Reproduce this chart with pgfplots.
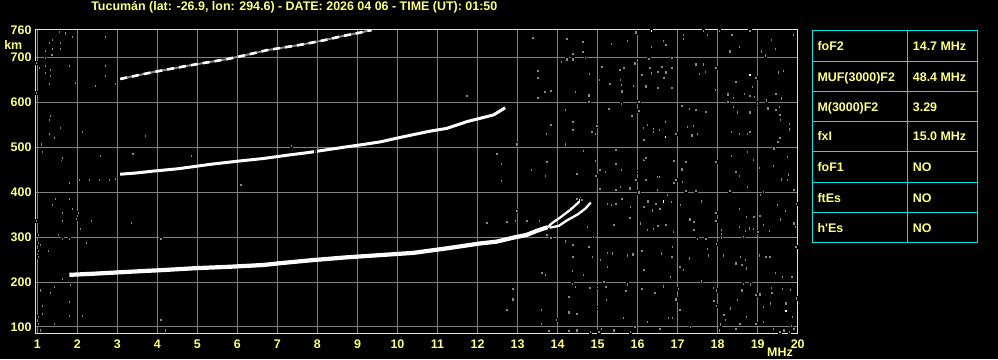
\documentclass[border=0pt]{standalone}
\usepackage{fontspec}
\setmainfont{Liberation Sans}
\usepackage{pgfplots}
\pgfplotsset{compat=1.18}
\definecolor{lbl}{RGB}{255,255,128}
\definecolor{frm}{RGB}{255,255,0}
\definecolor{grd}{RGB}{128,128,128}
\definecolor{tbl}{RGB}{0,230,230}
\definecolor{nz}{RGB}{136,136,136}
\newcommand{\lf}{\bfseries\fontsize{12.5}{15}\selectfont}

\pgfplotstableread{
f h
14.64 735
14.64 713
15.34 731
15.74 737
15.95 756
16.34 724
16.64 737
16.70 728
17.13 750
17.13 741
17.74 751
17.64 759
18.03 759
18.35 750
18.80 759
19.34 739
19.44 719
19.89 750
19.18 705
19.09 714
18.54 724
18.30 714
14.69 701
15.10 680
14.79 663
15.55 673
15.65 677
15.93 687
15.99 694
16.28 697
16.30 677
16.34 665
16.60 680
16.70 667
16.85 700
16.85 677
16.50 668
16.65 655
16.10 662
15.57 650
15.59 639
15.60 625
15.89 637
16.20 636
16.50 633
16.85 633
17.45 685
17.64 685
17.54 663
17.68 668
17.95 677
17.94 628
18.25 618
18.39 611
18.67 619
18.95 654
18.86 635
18.80 615
18.92 613
18.99 598
19.22 605
19.45 619
19.58 609
19.51 667
19.64 670
18.45 646
18.25 602
18.39 590
18.49 578
18.80 578
19.25 587
19.45 583
19.54 590
19.55 573
19.57 561
19.79 553
19.79 540
18.34 534
18.54 530
18.74 530
18.80 534
19.50 513
19.55 522
19.40 498
14.80 616
15.04 650
15.30 641
15.59 597
15.85 570
16.03 581
16.03 602
15.28 585
14.85 535
14.94 530
14.98 548
16.14 543
16.24 550
16.39 542
16.39 535
16.54 539
16.69 557
16.95 530
17.10 593
17.28 585
17.45 583
17.70 579
17.24 546
17.39 548
17.49 531
17.35 527
16.15 516
14.64 492
14.94 470
15.19 446
15.05 450
15.45 494
15.45 464
15.59 450
16.15 473
16.20 477
15.99 446
16.18 429
16.53 435
16.90 470
17.10 451
17.20 468
17.95 468
18.34 481
18.45 446
18.74 490
18.89 472
18.54 435
19.04 455
19.39 459
19.74 479
19.60 431
19.76 440
14.95 436
15.95 427
16.20 427
16.49 435
16.95 427
16.90 422
17.11 423
18.53 436
19.59 429
19.74 427
15.05 407
15.45 405
15.57 412
15.80 409
16.03 400
16.49 405
16.74 394
17.20 403
17.45 403
18.30 403
18.74 412
19.14 401
19.07 394
19.90 405
14.60 383
15.24 375
15.34 373
15.45 375
15.60 385
15.82 368
16.15 368
16.25 380
16.45 375
16.55 364
16.36 360
16.84 379
17.07 372
17.59 380
17.95 355
17.95 337
18.53 363
18.71 346
18.90 346
19.05 348
19.49 372
19.68 359
19.97 375
14.74 323
14.89 301
15.36 329
15.40 327
15.80 343
16.07 331
16.24 316
16.39 318
16.50 326
16.70 327
16.89 312
17.30 340
17.40 334
17.40 316
17.49 297
17.70 297
18.09 300
18.09 308
18.09 316
18.54 323
18.63 301
18.68 314
18.78 320
18.89 318
19.00 312
19.14 327
19.28 314
19.57 340
19.90 331
19.93 323
14.78 279
14.86 257
15.07 249
15.24 266
15.36 264
15.24 234
15.74 260
15.88 262
16.10 269
16.15 227
16.59 264
16.86 279
16.85 257
17.05 234
17.14 228
17.28 253
17.74 275
17.76 260
17.97 286
18.13 260
18.45 242
18.60 238
18.57 257
18.68 249
18.71 231
19.04 260
19.20 257
19.30 257
19.43 220
19.61 212
19.85 212
19.95 279
14.64 216
14.99 190
15.15 201
14.80 188
15.20 190
15.74 195
15.70 180
16.10 186
16.43 176
16.64 191
16.82 212
16.95 162
17.01 186
17.05 138
17.59 202
17.89 188
17.90 158
17.96 182
17.97 147
18.15 128
18.18 116
18.32 142
18.49 160
18.60 182
18.63 197
18.82 195
18.95 171
19.05 173
19.14 145
19.32 153
19.34 188
19.35 177
19.61 186
19.70 153
19.82 183
19.84 103
19.86 123
19.97 164
14.99 143
15.09 96
15.22 160
15.40 93
15.64 121
15.82 90
15.93 101
16.24 112
16.55 97
16.76 121
16.86 121
17.32 101
18.07 106
18.45 97
18.55 108
18.71 123
18.95 108
19.14 112
19.39 96
19.55 90
19.65 93
19.78 90
19.90 97
15.03 90
14.82 90
18.03 93
1.29 530
1.44 522
2.13 535
3.69 526
1.09 507
1.13 490
1.59 473
1.63 477
2.58 481
3.38 485
4.84 481
6.08 417
1.79 421
1.44 386
1.80 386
1.38 372
1.88 363
1.63 355
2.03 355
1.98 341
1.63 337
2.34 337
3.34 332
2.08 318
1.53 305
1.63 296
1.80 296
2.23 288
4.08 296
1.03 305
1.03 288
1.08 283
1.03 270
1.28 270
1.03 257
0.98 337
1.63 208
1.83 194
1.43 190
1.33 176
1.08 182
1.13 148
1.79 156
1.03 123
1.13 130
2.13 125
1.43 108
1.03 108
1.79 125
4.08 116
4.19 93
1.08 93
1.54 757
1.69 754
1.88 746
1.38 739
1.29 733
1.58 733
1.19 715
1.38 719
1.58 719
1.36 706
1.19 700
0.98 688
1.04 677
1.19 682
1.33 672
1.19 666
1.33 659
1.79 682
1.94 644
1.29 641
0.98 622
2.44 637
2.69 746
2.69 682
2.69 659
2.94 641
1.33 570
1.29 561
1.58 544
1.29 530
1.43 521
2.13 535
7.34 504
7.94 490
13.69 530
14.38 538
14.19 507
12.98 507
12.48 485
12.59 463
13.73 468
13.34 450
13.69 437
14.48 441
12.59 426
12.98 359
12.23 332
12.73 335
12.94 337
13.23 337
13.54 337
13.73 305
13.83 299
14.19 291
14.38 283
14.38 257
14.36 226
14.48 385
13.60 221
13.69 216
12.88 185
12.88 162
12.73 138
13.59 138
14.28 168
14.28 133
14.48 129
13.97 116
13.59 107
13.78 92
14.28 92
14.48 93
14.36 197
14.44 190
13.38 744
14.23 741
14.63 735
14.38 709
14.63 713
14.23 696
14.38 696
14.69 700
14.09 691
13.50 671
13.50 655
13.68 624
13.83 626
14.44 624
13.50 611
14.78 616
14.78 602
11.73 615
14.19 583
14.38 557
13.83 551
14.38 539
13.72 530
2.05 427
2.30 427
2.55 427
2.80 427
2.95 430
}\noisedata

\pgfplotstableread{
f h
16.64 380
19.70 136
16.69 524
16.34 759
18.80 662
}\whitedots

\pgfplotstableread{
f h
1.80 216
2.50 219
3.32 223
4.20 227
4.98 231
5.80 234
6.65 238
7.07 242
7.90 249
8.73 255
9.57 260
10.40 265
11.23 275
12.07 286
12.48 290
12.90 299
13.23 305
13.48 314
13.75 322
}\fone

\pgfplotstableread{
f h
13.75 322
13.86 331
14.07 344
14.32 361
14.51 376
14.60 387
}\fo

\pgfplotstableread{
f h
13.80 321
14.03 325
14.23 337
14.51 351
14.70 364
14.83 377
}\fx

\pgfplotstableread{
f h
3.07 440
3.50 443
3.90 447
4.50 452
5.32 462
6.00 469
6.65 475
7.30 483
7.75 488
8.20 494
8.73 501
9.20 507
9.57 512
10.07 522
10.50 530
10.82 536
11.23 542
11.73 557
12.40 572
12.69 588
}\ftwo

\pgfplotstableread{
f h
3.07 652
3.50 660
3.82 666
4.30 674
4.73 681
5.25 689
5.73 696
6.25 706
6.73 716
7.15 722
7.57 728
8.10 737
8.65 748
9.00 754
9.35 761
}\fthree

\begin{document}
\begin{tikzpicture}[x=1bp,y=1bp]
\fill[black] (0,0) rectangle (998,359);
\begin{axis}[
  at={(35.7bp,26bp)}, anchor=south west,
  scale only axis, width=762bp, height=303.7bp,
  xmin=0.96, xmax=20, ymin=86.6, ymax=762.6,
  xtick={1,2,...,20}, ytick={100,200,...,700},
  extra y ticks={760}, extra y tick style={grid=none},
  grid=major,
  major grid style={grd, line width=1bp},
  axis line style={frm, line width=1bp},
  major tick length=0pt,
  tick style={draw=none},
  ticklabel style={font=\lf, text=lbl, inner sep=0pt},
  xticklabel style={anchor=center, yshift=-11.5bp},
  yticklabel style={anchor=east, xshift=-4bp},
  /pgf/number format/assume math mode=true,
  clip=true,
]
\addplot[only marks, mark=square*, mark size=1.15bp, mark options={draw=none, fill=nz, yscale=1.4}] table {\noisedata};
\addplot[only marks, mark=square*, mark size=1.2bp, mark options={draw=none, fill=white, yscale=1.4}] table {\whitedots};
\addplot[white, line width=4.2bp, line join=round] table {\fone};
\addplot[white, line width=2.3bp, line join=round] table {\fo};
\addplot[white, line width=2.3bp, line join=round] table {\fx};
\addplot[white, line width=3bp, line join=round] table {\ftwo};
\addplot[nz, line width=2bp] table {\fthree};
\addplot[white, line width=2.6bp, dash pattern=on 7bp off 5bp] table {\fthree};
\end{axis}
% title and axis units
\node[text=lbl, font=\lf, anchor=base, inner sep=0pt] at (294.3,348.3) {Tucumán (lat: -26.9, lon: 294.6) - DATE: 2026 04 06 - TIME (UT): 01:50};
\node[text=lbl, font=\lf, anchor=base, inner sep=0pt] at (13.3,309.7) {km};
\node[text=lbl, font=\lf, anchor=base, inner sep=0pt] at (780,3) {MHz};
% parameter table
\draw[tbl, line width=1bp] (812.3,328.7) rectangle (977.3,116.7);
\draw[tbl, line width=1bp] (907.3,328.7) -- (907.3,116.7);
\foreach \yy in {297.3,267.3,237.7,207.7,176.7,146.3}
  \draw[tbl, line width=1bp] (812.3,\yy) -- (977.3,\yy);
\begin{scope}[every node/.style={text=lbl, font=\lf, anchor=base west, inner sep=0pt}]
\node at (817.3,308.4) {foF2};        \node at (912.7,308.4) {14.7 MHz};
\node at (817.3,277.7) {MUF(3000)F2}; \node at (912.7,277.7) {48.4 MHz};
\node at (817.3,248.0) {M(3000)F2};   \node at (912.7,248.0) {3.29};
\node at (817.3,218.1) {fxI};         \node at (912.7,218.1) {15.0 MHz};
\node at (817.3,187.7) {foF1};        \node at (912.7,187.7) {NO};
\node at (817.3,157.0) {ftEs};        \node at (912.7,157.0) {NO};
\node at (817.3,127.0) {h\textquotesingle Es}; \node at (912.7,127.0) {NO};
\end{scope}
\end{tikzpicture}
\end{document}
